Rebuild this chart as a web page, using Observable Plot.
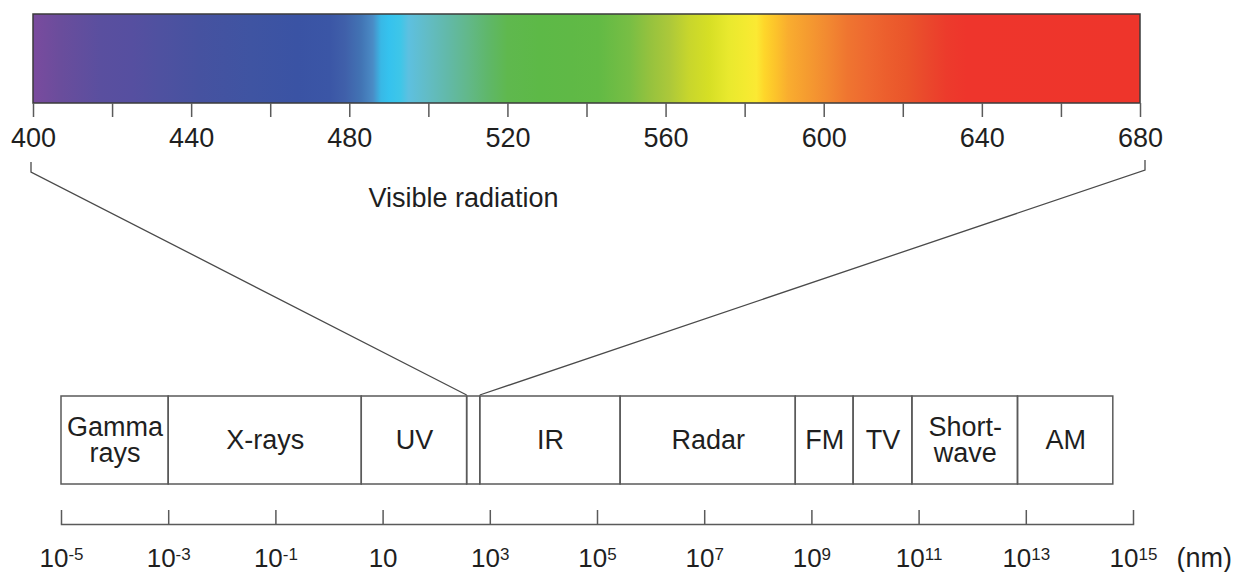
<!DOCTYPE html>
<html>
<head>
<meta charset="utf-8">
<script src="https://cdn.jsdelivr.net/npm/d3@7"></script>
<script src="https://cdn.jsdelivr.net/npm/@observablehq/plot@0.6"></script>
<style>
  html, body { margin: 0; padding: 0; background: #fff; }
  #chart { position: relative; width: 1242px; height: 572px; overflow: hidden; }
  #chart svg { position: absolute; left: 0; top: 0; overflow: visible; }
</style>
</head>
<body>
<div id="chart"></div>
<script>
// Visible spectrum: wavelength stops (nm) and the colour seen at each one
const spectrumWavelengths = [400, 407, 417, 425, 432, 442, 455, 467, 475, 479, 483, 486, 488, 490, 493, 495,
  500, 505, 510, 515, 520, 528, 536, 543, 551, 556, 561, 566, 571, 576, 580, 583, 585, 588, 591, 596,
  601, 606, 611, 616, 621, 626, 631, 636, 680];
const spectrumColors = ["#7a4b9e", "#6a4d9c", "#5a4f9f", "#564fa0", "#4f51a0", "#4652a0", "#3f54a2", "#3a53a4",
  "#3b56a6", "#4060aa", "#4274b4", "#4a8cc6", "#38b8e6", "#35c2ee", "#3fc6e8", "#5dc0e0",
  "#62bcc4", "#62b9a8", "#62b88a", "#5fb76a", "#5fb84e", "#5db947", "#5fb946", "#62ba45", "#78be44",
  "#95c23e", "#acc83a", "#c8d62c", "#d6df25", "#e9e92e", "#f3ea30", "#fbe933", "#fed62a", "#fcc22b",
  "#f9ad2f", "#f59b30", "#f28931", "#ef7530", "#ee6930", "#ec5e2d", "#ea552b", "#ea482c", "#ec3b2c",
  "#ee352c", "#ee352b"];

// Ticks and labels under the visible band (nm)
const visibleTicks = [400, 420, 440, 460, 480, 500, 520, 540, 560, 580, 600, 620, 640, 660, 680];
const visibleLabels = [400, 440, 480, 520, 560, 600, 640, 680];

// Electromagnetic spectrum bands and their wavelength limits (nm)
const bandNames = ["Gamma\nrays", "X-rays", "UV", "", "IR", "Radar", "FM", "TV", "Short-\nwave", "AM"];
const bandStarts = [1e-5, 1e-3, 4, 370, 650, 2.7e5, 5e8, 6e9, 7.5e10, 7e12];
const bandEnds = [1e-3, 4, 370, 650, 2.7e5, 5e8, 6e9, 7.5e10, 7e12, 4.2e14];
const visibleBand = 3;

// Logarithmic wavelength axis
const scaleTicks = [1e-5, 1e-3, 1e-1, 1e1, 1e3, 1e5, 1e7, 1e9, 1e11, 1e13, 1e15];
const scaleLabels = ["10^-5", "10^-3", "10^-1", "10", "10^3", "10^5", "10^7", "10^9", "10^11", "10^13", "10^15"];
const unitLabel = "(nm)";

// Page layout (px)
const W = 1242, H = 572;
const barTop = 14, barBottom = 103, barLeft = 33, barRight = 1140;
const bandTop = 396, bandBottom = 484, scaleTop = 510, scaleBottom = 524;
const logLeft = 61, logRight = 1133;
const ink = "#1f1f1f", lineColor = "#5a5a5a";
const style = {background: "transparent", overflow: "visible", fontFamily: "'Liberation Sans', Arial, sans-serif", fontSize: "27px", color: ink};

const logX = {type: "log", domain: [1e-5, 1e15], label: null};
const bandScale = Plot.scale({x: {...logX, range: [logLeft, logRight]}});

const bands = bandNames.map((name, i) => ({name, lo: bandStarts[i], hi: bandEnds[i]}));

// Gradient definition for the colour bar, placed with the x scale
function spectrumGradient(index, scales) {
  const x = scales.x;
  const x0 = x(spectrumWavelengths[0]), x1 = x(spectrumWavelengths[spectrumWavelengths.length - 1]);
  const defs = d3.create("svg:defs");
  const grad = defs.append("linearGradient")
    .attr("id", "visible-spectrum")
    .attr("gradientUnits", "userSpaceOnUse")
    .attr("x1", x0).attr("x2", x1).attr("y1", 0).attr("y2", 0);
  grad.selectAll("stop").data(spectrumWavelengths).join("stop")
    .attr("offset", d => (x(d) - x0) / (x1 - x0))
    .attr("stop-color", (d, i) => spectrumColors[i]);
  return defs.node();
}

// Lines joining the ends of the visible band to its slot in the full spectrum
function connectors(index, scales, values, dims) {
  const x = scales.x;
  const y0 = dims.height - dims.marginBottom;
  const g = d3.create("svg:g").attr("fill", "none").attr("stroke", "#4a4a4a").attr("stroke-width", 1.3);
  const ends = [
    [x(visibleTicks[0]) - 2, bandScale.apply(bandStarts[visibleBand]), 59],
    [x(visibleTicks[visibleTicks.length - 1]) + 5, bandScale.apply(bandEnds[visibleBand]), 57]
  ];
  for (const [xa, xb, off] of ends) {
    g.append("path").attr("d", `M${xa},${y0 + off}V${y0 + off + 10}L${xb},${bandTop - 1}`);
  }
  return g.node();
}

const topPlot = Plot.plot({
  width: W, height: H,
  marginTop: barTop, marginBottom: H - barBottom, marginLeft: barLeft, marginRight: W - barRight,
  x: {domain: [400, 680], label: null},
  style,
  marks: [
    spectrumGradient,
    Plot.rect([{lo: 400, hi: 680}], {x1: "lo", x2: "hi", fill: "url(#visible-spectrum)", stroke: "#3b3b3b", strokeWidth: 1.5}),
    Plot.axisX(visibleTicks, {
      anchor: "bottom", tickSize: 14, tickPadding: 10, label: null,
      tickFormat: d => visibleLabels.includes(d) ? String(d) : "",
      stroke: lineColor, strokeWidth: 1.5, fill: ink, fontSize: 27
    }),
    Plot.text(["Visible radiation"], {text: d => d, frameAnchor: "bottom-left", dx: 335, dy: 103, textAnchor: "start", fontSize: 27, fill: ink}),
    connectors
  ]
});

const bandPlot = Plot.plot({
  width: W, height: H,
  marginTop: bandTop, marginBottom: H - bandBottom, marginLeft: logLeft, marginRight: W - logRight,
  x: {...logX, axis: null},
  style,
  marks: [
    Plot.rect(bands, {x1: "lo", x2: "hi", fill: "none", stroke: lineColor, strokeWidth: 1.5}),
    Plot.text(bands.filter(d => d.name), {x: d => Math.sqrt(d.lo * d.hi), text: "name", fontSize: 27, lineHeight: 0.95, fill: ink})
  ]
});

const axisPlot = Plot.plot({
  width: W, height: H,
  marginTop: scaleTop, marginBottom: H - scaleBottom, marginLeft: logLeft, marginRight: W - logRight,
  x: {...logX, axis: null},
  style,
  marks: [
    Plot.frame({anchor: "bottom", stroke: lineColor, strokeWidth: 1.5}),
    Plot.tickX(scaleTicks, {x: d => d, stroke: lineColor, strokeWidth: 1.5}),
    Plot.text(scaleTicks, {x: d => d, text: (d, i) => scaleLabels[i], frameAnchor: "bottom", dy: 42, fontSize: 26, fill: ink}),
    Plot.text([unitLabel], {text: d => d, frameAnchor: "bottom-right", dx: 43, dy: 42, textAnchor: "start", fontSize: 27, fill: ink})
  ]
});

// Set powers of ten as "10" with a raised exponent
d3.select(axisPlot).selectAll("text").each(function () {
  const s = this.textContent;
  const k = s.indexOf("^");
  if (k < 0) return;
  const t = d3.select(this).text(null);
  t.append("tspan").text(s.slice(0, k));
  t.append("tspan").attr("font-size", 17).attr("dy", -7).text(s.slice(k + 1));
});

const chart = document.getElementById("chart");
chart.append(topPlot, bandPlot, axisPlot);
</script>
</body>
</html>
